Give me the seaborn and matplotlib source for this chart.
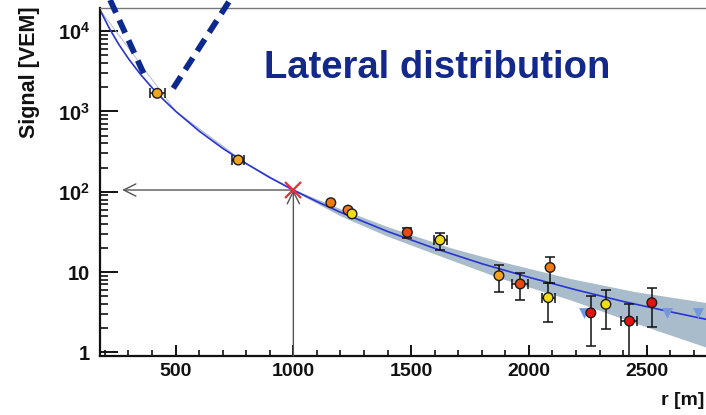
import numpy as np
import pandas as pd
import matplotlib
matplotlib.use("Agg")
import matplotlib.pyplot as plt
import seaborn as sns

# ---- station signals ----
station_r = [422, 766, 1159, 1232, 1249, 1484, 1623, 1873, 1963, 2090, 2082, 2263, 2327, 2427, 2522]
station_s = [1680, 248, 73, 59, 53, 31.2, 25, 9.0, 7.1, 11.4, 4.8, 3.1, 3.96, 2.45, 4.15]
station_s_err = [0, 0, 0, 0, 0, 4.5, 6.0, 3.4, 2.6, 4.0, 2.4, 1.9, 2.0, 1.6, 2.1]
station_r_err = [32, 25, 0, 0, 0, 0, 28, 0, 34, 0, 28, 0, 0, 34, 0]
station_group = ["amber", "amber", "orange", "orange", "yellow", "vermilion", "yellow",
                 "amber", "vermilion", "orange", "yellow", "red", "yellow", "red", "red"]
group_colors = {"amber": "#f5a21c", "orange": "#ef7a12", "vermilion": "#e8480f",
                "yellow": "#f4dc12", "red": "#e3140f"}

# silent stations (upper limits)
silent_r = [2234, 2586, 2720]
silent_s = [3.13, 3.13, 3.13]

# ---- LDF fit and its uncertainty band ----
fit_r = [180, 220, 260, 300, 350, 400, 450, 500, 600, 700, 800, 900, 1000, 1100, 1200,
         1400, 1600, 1800, 2000, 2200, 2400, 2600, 2760]
fit_s = [18100, 10640, 6750, 4530, 2915, 1972, 1387, 1006, 569, 347, 224, 150, 105, 75.4,
         55.5, 32.0, 19.7, 12.7, 8.6, 6.0, 4.3, 3.2, 2.55]
band_r = [180, 500, 800, 1000, 1200, 1400, 1664, 1878, 2176, 2450, 2760]
band_lo = [17700, 985, 219, 102.5, 50.0, 27.9, 14.3, 8.4, 4.5, 2.32, 1.14]
band_hi = [18500, 1028, 229, 107.5, 61.5, 36.7, 20.2, 13.6, 8.3, 5.7, 4.14]

# S(1000) read-off
s1000_r = 1000
s1000_s = 105
arrow_left_r = 273

# dashed guide
guide_r = [222, 377, 490, 731]
guide_s = [24400, 2460, 1940, 24400]

x_ticks = [500, 1000, 1500, 2000, 2500]
x_labels = ["500", "1000", "1500", "2000", "2500"]
y_ticks = [1, 10, 100, 1000, 10000]
y_labels = ["1", "10", r"$10^{2}$", r"$10^{3}$", r"$10^{4}$"]

sns.set_theme(style="white")
plt.rcParams["font.family"] = ["Liberation Sans", "DejaVu Sans"]
plt.rcParams["font.weight"] = "bold"
plt.rcParams["mathtext.fontset"] = "custom"
plt.rcParams["mathtext.rm"] = "Liberation Sans:bold"
plt.rcParams["mathtext.bf"] = "Liberation Sans:bold"
plt.rcParams["mathtext.default"] = "bf"

fig = plt.figure(figsize=(7.06, 4.15), dpi=100)
ax = fig.add_axes([100 / 706, 59 / 415, 606 / 706, 348 / 415])
ax.set_yscale("log")
ax.set_xlim(179, 2752)
ax.set_ylim(0.9, 19400)

# uncertainty band + fit line
ax.fill_between(band_r, band_lo, band_hi, color="#a9bccb", lw=0, zorder=1)
fit_df = pd.DataFrame({"r": fit_r, "s": fit_s})
sns.lineplot(data=fit_df, x="r", y="s", ax=ax, color="#2a34d0", lw=1.2, zorder=2,
             estimator=None, sort=False)

# silent stations
ax.scatter(silent_r, silent_s, marker="v", s=60, color="#7396de", lw=0, zorder=2.5)

# S(1000) construction lines
ax.annotate("", xy=(arrow_left_r, s1000_s), xytext=(s1000_r, s1000_s),
            arrowprops=dict(arrowstyle="->", color="#555555", lw=1.0, mutation_scale=22,
                            shrinkA=0, shrinkB=0), zorder=3)
ax.annotate("", xy=(s1000_r, s1000_s), xytext=(s1000_r, 0.9),
            arrowprops=dict(arrowstyle="->", color="#555555", lw=1.0, mutation_scale=22,
                            shrinkA=0, shrinkB=0), zorder=3)
ax.plot([s1000_r], [s1000_s], marker="x", color="#e2313a", ms=12, mew=1.6, zorder=6)

# error bars
ax.errorbar(station_r, station_s,
            yerr=[e if e else np.nan for e in station_s_err],
            fmt="none", ecolor="#111111", elinewidth=1.1, capsize=3.5, capthick=1.1, zorder=3)
ax.errorbar(station_r, station_s,
            xerr=[e if e else np.nan for e in station_r_err],
            fmt="none", ecolor="#111111", elinewidth=1.1, capsize=3.5, capthick=1.1, zorder=3)

# station markers
st_df = pd.DataFrame({"r": station_r, "s": station_s, "grp": station_group})
sns.scatterplot(data=st_df, x="r", y="s", hue="grp", palette=group_colors, ax=ax,
                s=48, edgecolor="#1a1a1a", linewidth=1.0, legend=False, zorder=5)

# dashed V guide
ax.plot(guide_r[:2], guide_s[:2], ls=(0, (2.4, 1.4)), color="#0c2a8e", lw=4.2,
        clip_on=False, zorder=4)
ax.plot(guide_r[2:], guide_s[2:], ls=(0, (2.4, 1.4)), color="#0c2a8e", lw=4.2,
        clip_on=False, zorder=4)

# axes styling
for side in ["left", "bottom"]:
    ax.spines[side].set_color("#111111")
    ax.spines[side].set_linewidth(1.6)
ax.spines["top"].set_color("#777777")
ax.spines["top"].set_linewidth(1.0)
ax.spines["right"].set_visible(False)

ax.set_xticks(x_ticks)
ax.set_xticklabels(x_labels)
ax.set_xticks(np.arange(200, 2800, 100), minor=True)
ax.set_yticks(y_ticks)
ax.set_yticklabels(y_labels)
minor_y = [m * 10 ** d for d in range(0, 5) for m in range(2, 10)]
ax.set_yticks([v for v in minor_y if v < 19400], minor=True)
ax.yaxis.set_minor_formatter(matplotlib.ticker.NullFormatter())

ax.tick_params(axis="y", which="major", direction="in", length=13, width=1.4,
               labelsize=14.5, pad=7, colors="#111111", left=True, right=False)
ax.tick_params(axis="y", which="minor", direction="in", length=6, width=1.2,
               left=True, right=False, colors="#111111")
ax.tick_params(axis="x", which="major", direction="in", length=8, width=1.4,
               labelsize=14, pad=5, colors="#111111", bottom=True, top=False)
ax.tick_params(axis="x", which="minor", direction="in", length=4.5, width=1.2,
               bottom=True, top=False, colors="#111111")
for lab in ax.get_xticklabels() + ax.get_yticklabels():
    lab.set_fontweight("bold")
ax.set_xlabel("")
ax.set_ylabel("")

fig.text(30 / 706, 1 - 72 / 415, "Signal [VEM]", rotation=90, ha="center", va="center",
         fontsize=15.5, fontweight="bold", color="#111111")
fig.text(704 / 706, 15 / 415, "r [m]", ha="right", va="center",
         fontsize=14, fontweight="bold", color="#111111")
fig.text(437 / 706, 1 - 68 / 415, "Lateral distribution", ha="center", va="center",
         fontsize=27.5, fontweight="bold", color="#12288a")

fig.savefig("out.png", dpi=100)
